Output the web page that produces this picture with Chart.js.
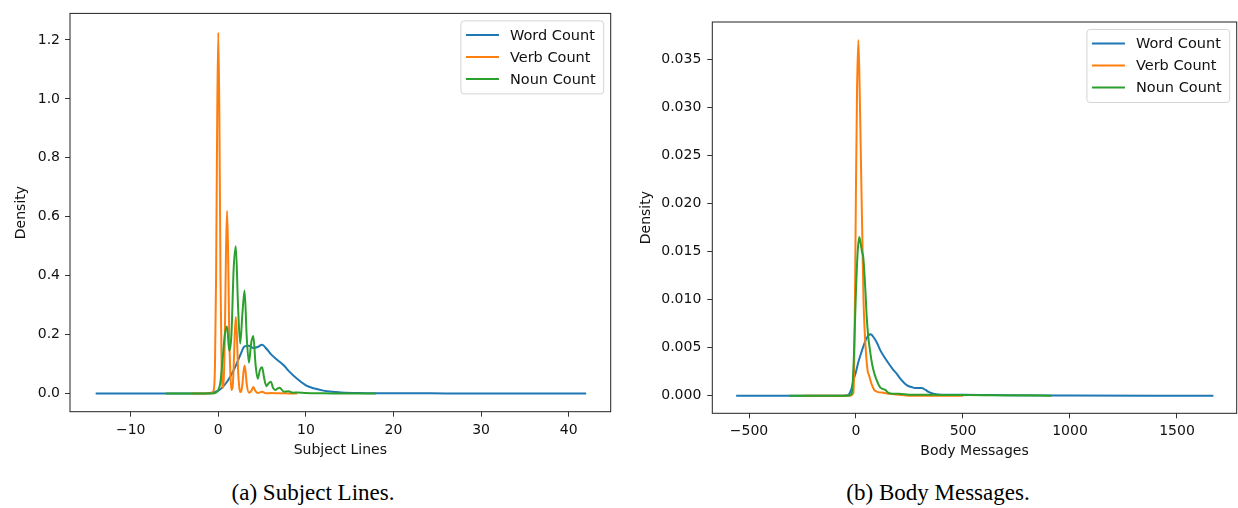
<!DOCTYPE html>
<html>
<head>
<meta charset="utf-8">
<script src="https://cdn.jsdelivr.net/npm/chart.js@4/dist/chart.umd.min.js"></script>
<style>
  html, body { margin: 0; padding: 0; background: #fff; }
  #page { position: relative; width: 1238px; height: 508px; overflow: hidden; }
  canvas { position: absolute; top: 0; }
  .caption { position: absolute; top: 481px; width: 400px; text-align: center;
    font-family: "Liberation Serif", "Times New Roman", serif; font-size: 23px; line-height: 24px; color: #000; }
</style>
</head>
<body>
<div id="page">
  <canvas id="subjectChart" width="620" height="470" style="left:0"></canvas>
  <canvas id="bodyChart" width="618" height="470" style="left:620px"></canvas>
  <div class="caption" style="left:113px">(a) Subject Lines.</div>
  <div class="caption" style="left:738px">(b) Body Messages.</div>
</div>
<script>
const seriesLabels = ['Word Count', 'Verb Count', 'Noun Count'];
const seriesColors = ['#1f77b4', '#ff7f0e', '#2ca02c'];

// (a) subject lines
const subjWordX = [-14, -3, -1.5, -1, -0.5, 0, 0.5, 1, 1.5, 2, 2.5, 3, 3.5, 4, 4.5, 5, 5.5, 6, 6.5, 7, 7.5, 8, 9, 10, 11, 12, 13, 14, 16, 18, 22, 26, 30, 42];
const subjWordY = [0, 0, 0.0005, 0.002, 0.005, 0.01, 0.022, 0.04, 0.065, 0.095, 0.13, 0.16, 0.162, 0.155, 0.158, 0.166, 0.152, 0.134, 0.12, 0.108, 0.095, 0.078, 0.05, 0.028, 0.017, 0.01, 0.006, 0.004, 0.002, 0.0012, 0.001, 0.0005, 0.0003, 0];
const subjVerbX = [-3, -1, -0.75, -0.5, -0.375, -0.25, -0.125, 0, 0.125, 0.25, 0.375, 0.5, 0.625, 0.75, 0.875, 1, 1.125, 1.25, 1.375, 1.5, 1.625, 1.75, 1.875, 2, 2.125, 2.25, 2.375, 2.5, 2.625, 2.75, 2.875, 3, 3.125, 3.25, 3.5, 3.75, 4, 4.25, 4.5, 5, 5.5, 6, 7, 9];
const subjVerbY = [0, 0, 0.002, 0.015, 0.1, 0.4, 0.93, 1.225, 0.93, 0.4, 0.1, 0.02, 0.05, 0.2, 0.47, 0.62, 0.47, 0.2, 0.07, 0.012, 0.02, 0.085, 0.196, 0.26, 0.196, 0.085, 0.027, 0.005, 0.008, 0.031, 0.072, 0.095, 0.072, 0.031, 0.003, 0.008, 0.022, 0.008, 0.002, 0.006, 0.001, 0.002, 0.001, 0];
const subjNounX = [-6, -1, -0.5, -0.25, 0, 0.25, 0.5, 0.75, 1, 1.25, 1.5, 1.75, 2, 2.25, 2.5, 2.75, 3, 3.25, 3.5, 3.75, 4, 4.25, 4.5, 4.75, 5, 5.25, 5.5, 5.75, 6, 6.25, 6.5, 6.75, 7, 7.5, 8, 8.5, 9, 10, 11, 12, 14, 18];
const subjNounY = [0, 0, 0.001, 0.004, 0.012, 0.04, 0.12, 0.2, 0.228, 0.145, 0.2, 0.42, 0.5, 0.3, 0.17, 0.27, 0.35, 0.19, 0.105, 0.17, 0.195, 0.1, 0.05, 0.08, 0.089, 0.05, 0.025, 0.035, 0.04, 0.02, 0.012, 0.017, 0.02, 0.006, 0.008, 0.003, 0.004, 0.002, 0.001, 0.001, 0.0003, 0];
const subjXTicks = [-10, 0, 10, 20, 30, 40];
const subjYTicks = [0, 0.2, 0.4, 0.6, 0.8, 1.0, 1.2];

// (b) body messages
const bodyWordX = [-560, -60, -36, -20, -12, 0, 11, 25, 34, 50, 68, 85, 100, 112, 130, 151, 174, 190, 206, 237, 260, 276, 292, 307, 325, 339, 362, 400, 500, 600, 700, 1000, 1670];
const bodyWordY = [0, 0, 0.0001, 0.0008, 0.0016, 0.0025, 0.0035, 0.0045, 0.0051, 0.006, 0.0064, 0.006, 0.0054, 0.0048, 0.0041, 0.0034, 0.0027, 0.0023, 0.0018, 0.0011, 0.0009, 0.0008, 0.0008, 0.0008, 0.0006, 0.0004, 0.0002, 0.0001, 0.0001, 0.00008, 0.00005, 0.00002, 0];
const bodyVerbX = [-250, -30, -12, -8, -4, 0, 5, 11, 17, 25, 30, 35, 40, 45, 50, 55, 60, 65, 73, 85, 100, 130, 160, 200, 250, 500];
const bodyVerbY = [0, 0, 0.0003, 0.004, 0.012, 0.022, 0.032, 0.037, 0.032, 0.022, 0.016, 0.01, 0.007, 0.005, 0.0035, 0.0025, 0.0022, 0.0018, 0.0012, 0.0006, 0.0004, 0.0003, 0.0002, 0.0001, 0, 0];
const bodyNounX = [-311, -40, -20, -10, 0, 8, 15, 22, 28, 34, 40, 45, 50, 58, 65, 72, 81, 95, 112, 125, 137, 151, 170, 200, 250, 300, 400, 600, 914];
const bodyNounY = [0, 0, 0.0002, 0.004, 0.011, 0.015, 0.0165, 0.0158, 0.015, 0.0144, 0.0125, 0.0105, 0.0082, 0.006, 0.0048, 0.0037, 0.0027, 0.0017, 0.0009, 0.0007, 0.0006, 0.0003, 0.0002, 0.0002, 0.0001, 0.0001, 0.00008, 0.00005, 0];
const bodyXTicks = [-500, 0, 500, 1000, 1500];
const bodyYTicks = [0, 0.005, 0.01, 0.015, 0.02, 0.025, 0.03, 0.035];

Chart.defaults.font.family = '"DejaVu Sans", sans-serif';
Chart.defaults.font.size = 14;
Chart.defaults.color = '#111';

const toPoints = (xs, ys) => xs.map((x, i) => ({ x, y: ys[i] }));
const minus = v => (v < 0 ? '\u2212' : '') + Math.abs(v);

const frame = {
  id: 'frame',
  afterDatasetsDraw(chart) {
    const { ctx, chartArea: a } = chart;
    ctx.save();
    ctx.strokeStyle = '#222';
    ctx.lineWidth = 1;
    ctx.strokeRect(a.left, a.top, a.right - a.left, a.bottom - a.top);
    ctx.restore();
  }
};

// matplotlib-like legend in the upper right corner of the plot
const boxLegend = {
  id: 'boxLegend',
  afterDraw(chart) {
    const { ctx, chartArea: a } = chart;
    const sets = chart.data.datasets;
    ctx.save();
    ctx.font = '14.5px "DejaVu Sans"';
    const textW = Math.max(...sets.map(d => ctx.measureText(d.label).width));
    const rowH = 22;
    const w = 49 + textW + 8;
    const h = 14 + rowH * (sets.length - 1) + 15;
    const x = a.right - 7 - w;
    const y = a.top + 7.5;
    ctx.beginPath();
    ctx.roundRect(x, y, w, h, 3);
    ctx.fillStyle = 'rgba(255,255,255,0.8)';
    ctx.fill();
    ctx.strokeStyle = '#d4d4d4';
    ctx.lineWidth = 1;
    ctx.stroke();
    sets.forEach((d, i) => {
      const cy = y + 14 + i * rowH;
      ctx.beginPath();
      ctx.moveTo(x + 5, cy);
      ctx.lineTo(x + 38, cy);
      ctx.strokeStyle = d.borderColor;
      ctx.lineWidth = 2;
      ctx.stroke();
      ctx.fillStyle = '#111';
      ctx.textBaseline = 'middle';
      ctx.fillText(d.label, x + 49, cy + 1);
    });
    ctx.restore();
  }
};

function densityChart(id, series, xr, yr, xTicks, yTicks, yFmt, xTitle, dims) {
  return new Chart(document.getElementById(id), {
    type: 'line',
    data: {
      datasets: series.map((pts, i) => ({
        label: seriesLabels[i],
        data: pts,
        borderColor: seriesColors[i],
        borderWidth: 2,
        pointRadius: 0,
        cubicInterpolationMode: 'monotone',
        fill: false,
        order: 3 - i
      }))
    },
    options: {
      responsive: false,
      animation: false,
      layout: { padding: { top: dims.top, right: dims.right, left: 0, bottom: 0 } },
      plugins: { legend: { display: false }, tooltip: { enabled: false } },
      scales: {
        x: {
          type: 'linear', min: xr[0], max: xr[1],
          afterBuildTicks: s => { s.ticks = xTicks.map(v => ({ value: v })); },
          afterFit: s => { s.height = dims.xh; },
          ticks: { callback: minus, padding: 5, maxRotation: 0 },
          grid: { drawOnChartArea: false, drawTicks: true, tickLength: 5, color: '#333' },
          border: { display: false },
          title: { display: true, text: xTitle, padding: { top: 0, bottom: dims.xtb } }
        },
        y: {
          type: 'linear', min: yr[0], max: yr[1],
          afterBuildTicks: s => { s.ticks = yTicks.map(v => ({ value: v })); },
          afterFit: s => { s.width = dims.yw; },
          ticks: { callback: yFmt, padding: dims.ypad },
          grid: { drawOnChartArea: false, drawTicks: true, tickLength: 5, color: '#333' },
          border: { display: false },
          title: { display: true, text: 'Density', padding: { top: dims.ytt, bottom: 0 } }
        }
      }
    },
    plugins: [frame, boxLegend]
  });
}

densityChart('subjectChart',
  [toPoints(subjWordX, subjWordY), toPoints(subjVerbX, subjVerbY), toPoints(subjNounX, subjNounY)],
  [-16.93, 44.8], [-0.0615, 1.29], subjXTicks, subjYTicks, v => v.toFixed(1), 'Subject Lines',
  { top: 7.3, right: 9.3, xh: 58.3, yw: 70, ypad: 5, xtb: 10.9, ytt: 13.3 });

densityChart('bodyChart',
  [toPoints(bodyWordX, bodyWordY), toPoints(bodyVerbX, bodyVerbY), toPoints(bodyNounX, bodyNounY)],
  [-671.5, 1779], [-0.00183, 0.03888], bodyXTicks, bodyYTicks, v => v.toFixed(3), 'Body Messages',
  { top: 22, right: 1.3, xh: 56.7, yw: 92.3, ypad: 6, xtb: 9.9, ytt: 18.3 });
</script>
</body>
</html>
